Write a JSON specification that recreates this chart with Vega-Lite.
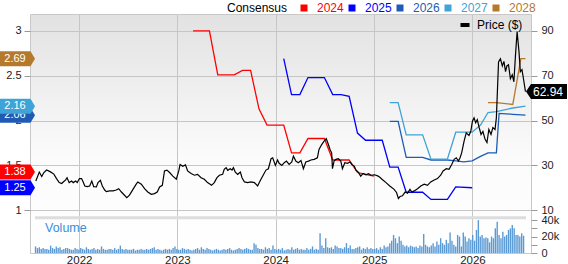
{
  "$schema": "https://vega.github.io/schema/vega-lite/v6.json",
  "width": 568,
  "height": 264,
  "autosize": {"type": "fit", "contains": "padding"},
  "padding": {"left": 0, "top": 14, "right": 0, "bottom": -2},
  "background": "white",
  "view": {
    "fill": {"gradient": "linear", "x1": 0, "y1": 0, "x2": 0, "y2": 1,
      "stops": [{"offset": 0, "color": "#e2e2e2"}, {"offset": 0.6, "color": "#fbfbfb"}, {"offset": 1, "color": "#ffffff"}]},
    "stroke": "#c8c8c8"
  },
  "config": {
    "font": "Liberation Sans",
    "axis": {"labelFont": "Liberation Sans", "labelFontSize": 11, "labelColor": "#222222", "tickColor": "#999999", "domain": false, "title": null},
    "legend": {"labelFont": "Liberation Sans", "titleFont": "Liberation Sans"}
  },
  "datasets": {
    "eps": [
      {"d": "2023-02-28", "series": "2024", "eps": 3.0},
      {"d": "2023-04-30", "series": "2024", "eps": 3.0},
      {"d": "2023-05-31", "series": "2024", "eps": 2.51},
      {"d": "2023-07-31", "series": "2024", "eps": 2.51},
      {"d": "2023-08-31", "series": "2024", "eps": 2.56},
      {"d": "2023-09-30", "series": "2024", "eps": 2.56},
      {"d": "2023-10-31", "series": "2024", "eps": 2.13},
      {"d": "2023-11-30", "series": "2024", "eps": 1.95},
      {"d": "2024-01-31", "series": "2024", "eps": 1.95},
      {"d": "2024-02-29", "series": "2024", "eps": 1.64},
      {"d": "2024-03-31", "series": "2024", "eps": 1.64},
      {"d": "2024-04-30", "series": "2024", "eps": 1.80},
      {"d": "2024-06-30", "series": "2024", "eps": 1.80},
      {"d": "2024-07-31", "series": "2024", "eps": 1.56},
      {"d": "2024-09-30", "series": "2024", "eps": 1.56},
      {"d": "2024-10-31", "series": "2024", "eps": 1.42},
      {"d": "2024-11-30", "series": "2024", "eps": 1.40},
      {"d": "2024-12-31", "series": "2024", "eps": 1.38},
      {"d": "2024-01-31", "series": "2025", "eps": 2.69},
      {"d": "2024-02-29", "series": "2025", "eps": 2.29},
      {"d": "2024-03-31", "series": "2025", "eps": 2.29},
      {"d": "2024-04-30", "series": "2025", "eps": 2.48},
      {"d": "2024-06-30", "series": "2025", "eps": 2.48},
      {"d": "2024-07-31", "series": "2025", "eps": 2.29},
      {"d": "2024-08-31", "series": "2025", "eps": 2.29},
      {"d": "2024-09-30", "series": "2025", "eps": 2.27},
      {"d": "2024-10-31", "series": "2025", "eps": 1.86},
      {"d": "2024-11-30", "series": "2025", "eps": 1.78},
      {"d": "2025-01-31", "series": "2025", "eps": 1.78},
      {"d": "2025-02-28", "series": "2025", "eps": 1.48},
      {"d": "2025-03-31", "series": "2025", "eps": 1.48},
      {"d": "2025-04-30", "series": "2025", "eps": 1.20},
      {"d": "2025-06-30", "series": "2025", "eps": 1.20},
      {"d": "2025-07-31", "series": "2025", "eps": 1.12},
      {"d": "2025-09-30", "series": "2025", "eps": 1.12},
      {"d": "2025-10-31", "series": "2025", "eps": 1.26},
      {"d": "2025-12-31", "series": "2025", "eps": 1.25},
      {"d": "2025-02-28", "series": "2026", "eps": 1.99},
      {"d": "2025-03-31", "series": "2026", "eps": 1.99},
      {"d": "2025-04-30", "series": "2026", "eps": 1.59},
      {"d": "2025-06-30", "series": "2026", "eps": 1.59},
      {"d": "2025-07-31", "series": "2026", "eps": 1.56},
      {"d": "2025-09-30", "series": "2026", "eps": 1.56},
      {"d": "2025-10-31", "series": "2026", "eps": 1.55},
      {"d": "2025-11-30", "series": "2026", "eps": 1.54},
      {"d": "2025-12-31", "series": "2026", "eps": 1.55},
      {"d": "2026-01-31", "series": "2026", "eps": 1.60},
      {"d": "2026-02-28", "series": "2026", "eps": 1.64},
      {"d": "2026-03-31", "series": "2026", "eps": 1.64},
      {"d": "2026-04-10", "series": "2026", "eps": 2.08},
      {"d": "2026-05-31", "series": "2026", "eps": 2.07},
      {"d": "2026-07-17", "series": "2026", "eps": 2.06},
      {"d": "2025-02-28", "series": "2027", "eps": 2.20},
      {"d": "2025-03-31", "series": "2027", "eps": 2.20},
      {"d": "2025-04-30", "series": "2027", "eps": 1.84},
      {"d": "2025-06-30", "series": "2027", "eps": 1.84},
      {"d": "2025-07-31", "series": "2027", "eps": 1.57},
      {"d": "2025-09-30", "series": "2027", "eps": 1.57},
      {"d": "2025-10-31", "series": "2027", "eps": 1.87},
      {"d": "2025-12-31", "series": "2027", "eps": 1.87},
      {"d": "2026-01-31", "series": "2027", "eps": 1.95},
      {"d": "2026-02-28", "series": "2027", "eps": 2.09},
      {"d": "2026-03-31", "series": "2027", "eps": 2.10},
      {"d": "2026-04-30", "series": "2027", "eps": 2.12},
      {"d": "2026-05-31", "series": "2027", "eps": 2.14},
      {"d": "2026-07-17", "series": "2027", "eps": 2.16},
      {"d": "2026-02-28", "series": "2028", "eps": 2.20},
      {"d": "2026-03-31", "series": "2028", "eps": 2.20},
      {"d": "2026-05-31", "series": "2028", "eps": 2.18},
      {"d": "2026-06-30", "series": "2028", "eps": 2.69},
      {"d": "2026-07-17", "series": "2028", "eps": 2.69}
    ],
    "flags": [
      {"series": "2026", "eps": 2.06, "label": "2.06"},
      {"series": "2027", "eps": 2.16, "label": "2.16"},
      {"series": "2028", "eps": 2.69, "label": "2.69"},
      {"series": "2025", "eps": 1.25, "label": "1.25"},
      {"series": "2024", "eps": 1.38, "label": "1.38"}
    ],
    "price": [
      {"d": "2021-07-24", "p": 23.0}, {"d": "2021-08-06", "p": 27.0}, {"d": "2021-08-15", "p": 25.0}, {"d": "2021-08-23", "p": 26.8},
      {"d": "2021-09-02", "p": 27.9}, {"d": "2021-09-15", "p": 27.2}, {"d": "2021-09-29", "p": 26.1}, {"d": "2021-10-09", "p": 24.1},
      {"d": "2021-10-19", "p": 22.3}, {"d": "2021-10-28", "p": 21.9}, {"d": "2021-11-03", "p": 22.6}, {"d": "2021-11-12", "p": 23.5},
      {"d": "2021-11-17", "p": 24.5}, {"d": "2021-11-25", "p": 22.3}, {"d": "2021-12-04", "p": 23.0}, {"d": "2021-12-10", "p": 22.3},
      {"d": "2021-12-19", "p": 23.0}, {"d": "2021-12-25", "p": 22.3}, {"d": "2022-01-02", "p": 24.1}, {"d": "2022-01-10", "p": 24.1},
      {"d": "2022-01-16", "p": 22.6}, {"d": "2022-01-22", "p": 20.8}, {"d": "2022-01-31", "p": 20.5}, {"d": "2022-02-09", "p": 20.8},
      {"d": "2022-02-17", "p": 23.0}, {"d": "2022-02-24", "p": 20.5}, {"d": "2022-03-06", "p": 20.4}, {"d": "2022-03-12", "p": 22.3},
      {"d": "2022-03-21", "p": 23.3}, {"d": "2022-03-28", "p": 20.8}, {"d": "2022-04-06", "p": 19.0}, {"d": "2022-04-12", "p": 18.3},
      {"d": "2022-04-24", "p": 18.6}, {"d": "2022-05-07", "p": 18.6}, {"d": "2022-05-19", "p": 19.0}, {"d": "2022-05-28", "p": 19.6},
      {"d": "2022-06-07", "p": 18.1}, {"d": "2022-06-15", "p": 17.1}, {"d": "2022-06-27", "p": 15.6}, {"d": "2022-07-07", "p": 16.7},
      {"d": "2022-07-20", "p": 19.3}, {"d": "2022-08-01", "p": 21.6}, {"d": "2022-08-07", "p": 22.6}, {"d": "2022-08-20", "p": 21.6},
      {"d": "2022-09-01", "p": 19.6}, {"d": "2022-09-13", "p": 18.1}, {"d": "2022-09-26", "p": 17.1}, {"d": "2022-10-08", "p": 17.4},
      {"d": "2022-10-18", "p": 18.1}, {"d": "2022-10-27", "p": 20.4}, {"d": "2022-11-06", "p": 21.1}, {"d": "2022-11-14", "p": 27.5},
      {"d": "2022-11-23", "p": 27.9}, {"d": "2022-12-03", "p": 26.8}, {"d": "2022-12-15", "p": 25.2}, {"d": "2022-12-28", "p": 23.8},
      {"d": "2023-01-06", "p": 27.5}, {"d": "2023-01-11", "p": 30.4}, {"d": "2023-01-21", "p": 29.6}, {"d": "2023-01-31", "p": 30.2},
      {"d": "2023-02-08", "p": 27.5}, {"d": "2023-02-21", "p": 26.4}, {"d": "2023-03-05", "p": 25.6}, {"d": "2023-03-17", "p": 26.0},
      {"d": "2023-03-30", "p": 24.5}, {"d": "2023-04-11", "p": 23.8}, {"d": "2023-04-23", "p": 22.3}, {"d": "2023-05-08", "p": 21.1},
      {"d": "2023-05-18", "p": 22.3}, {"d": "2023-05-28", "p": 24.5}, {"d": "2023-06-06", "p": 25.6}, {"d": "2023-06-18", "p": 26.0},
      {"d": "2023-06-24", "p": 28.2}, {"d": "2023-07-01", "p": 29.0}, {"d": "2023-07-07", "p": 27.8}, {"d": "2023-07-16", "p": 28.5},
      {"d": "2023-07-23", "p": 27.9}, {"d": "2023-07-28", "p": 29.0}, {"d": "2023-08-04", "p": 27.0}, {"d": "2023-08-13", "p": 26.0},
      {"d": "2023-08-23", "p": 27.0}, {"d": "2023-08-29", "p": 24.5}, {"d": "2023-09-07", "p": 22.6}, {"d": "2023-09-19", "p": 22.3},
      {"d": "2023-10-01", "p": 22.6}, {"d": "2023-10-14", "p": 22.3}, {"d": "2023-10-26", "p": 20.8}, {"d": "2023-11-04", "p": 23.0},
      {"d": "2023-11-13", "p": 25.0}, {"d": "2023-11-26", "p": 27.9}, {"d": "2023-12-05", "p": 28.5}, {"d": "2023-12-15", "p": 33.0},
      {"d": "2023-12-21", "p": 33.4}, {"d": "2023-12-31", "p": 30.0}, {"d": "2024-01-08", "p": 32.4}, {"d": "2024-01-14", "p": 30.9},
      {"d": "2024-01-24", "p": 30.0}, {"d": "2024-02-02", "p": 31.2}, {"d": "2024-02-10", "p": 31.9}, {"d": "2024-02-20", "p": 30.4},
      {"d": "2024-03-01", "p": 31.5}, {"d": "2024-03-07", "p": 34.1}, {"d": "2024-03-16", "p": 31.9}, {"d": "2024-03-25", "p": 31.2},
      {"d": "2024-04-04", "p": 32.2}, {"d": "2024-04-13", "p": 28.5}, {"d": "2024-04-22", "p": 31.5}, {"d": "2024-05-02", "p": 31.9},
      {"d": "2024-05-11", "p": 32.4}, {"d": "2024-05-23", "p": 32.7}, {"d": "2024-06-04", "p": 33.4}, {"d": "2024-06-10", "p": 37.1},
      {"d": "2024-06-20", "p": 39.3}, {"d": "2024-06-29", "p": 40.8}, {"d": "2024-07-07", "p": 41.9}, {"d": "2024-07-15", "p": 39.3},
      {"d": "2024-07-21", "p": 37.1}, {"d": "2024-07-27", "p": 35.6}, {"d": "2024-07-30", "p": 28.5}, {"d": "2024-08-05", "p": 31.9},
      {"d": "2024-08-12", "p": 32.7}, {"d": "2024-08-21", "p": 33.0}, {"d": "2024-08-30", "p": 31.9}, {"d": "2024-09-05", "p": 28.5},
      {"d": "2024-09-14", "p": 31.2}, {"d": "2024-09-24", "p": 30.9}, {"d": "2024-10-03", "p": 31.5}, {"d": "2024-10-10", "p": 30.4},
      {"d": "2024-10-19", "p": 29.7}, {"d": "2024-10-25", "p": 27.9}, {"d": "2024-11-03", "p": 27.0}, {"d": "2024-11-12", "p": 25.2},
      {"d": "2024-11-21", "p": 26.4}, {"d": "2024-12-01", "p": 25.8}, {"d": "2024-12-11", "p": 26.3}, {"d": "2024-12-20", "p": 25.6},
      {"d": "2025-01-02", "p": 25.8}, {"d": "2025-01-14", "p": 25.3}, {"d": "2025-01-22", "p": 24.7}, {"d": "2025-01-30", "p": 23.8},
      {"d": "2025-02-14", "p": 22.3}, {"d": "2025-02-28", "p": 20.8}, {"d": "2025-03-16", "p": 19.3}, {"d": "2025-03-25", "p": 17.9},
      {"d": "2025-04-01", "p": 15.2}, {"d": "2025-04-07", "p": 16.1}, {"d": "2025-04-16", "p": 16.4}, {"d": "2025-04-26", "p": 18.1},
      {"d": "2025-05-05", "p": 17.6}, {"d": "2025-05-14", "p": 19.3}, {"d": "2025-05-21", "p": 18.1}, {"d": "2025-05-30", "p": 18.6},
      {"d": "2025-06-11", "p": 19.6}, {"d": "2025-06-23", "p": 20.8}, {"d": "2025-07-06", "p": 21.6}, {"d": "2025-07-18", "p": 21.1},
      {"d": "2025-07-30", "p": 22.6}, {"d": "2025-08-12", "p": 23.5}, {"d": "2025-08-24", "p": 24.1}, {"d": "2025-09-05", "p": 25.6},
      {"d": "2025-09-14", "p": 27.5}, {"d": "2025-09-26", "p": 28.5}, {"d": "2025-10-06", "p": 28.2}, {"d": "2025-10-16", "p": 30.4},
      {"d": "2025-10-25", "p": 32.7}, {"d": "2025-11-02", "p": 33.4}, {"d": "2025-11-10", "p": 31.9}, {"d": "2025-11-16", "p": 33.4},
      {"d": "2025-11-22", "p": 35.6}, {"d": "2025-12-01", "p": 40.8}, {"d": "2025-12-09", "p": 44.5}, {"d": "2025-12-19", "p": 43.3},
      {"d": "2025-12-26", "p": 45.2}, {"d": "2026-01-01", "p": 49.7}, {"d": "2026-01-07", "p": 51.2}, {"d": "2026-01-13", "p": 49.0},
      {"d": "2026-01-19", "p": 50.4}, {"d": "2026-01-26", "p": 46.9}, {"d": "2026-02-02", "p": 43.8}, {"d": "2026-02-09", "p": 45.1},
      {"d": "2026-02-17", "p": 41.6}, {"d": "2026-02-24", "p": 40.2}, {"d": "2026-03-03", "p": 46.0}, {"d": "2026-03-11", "p": 43.8},
      {"d": "2026-03-18", "p": 46.9}, {"d": "2026-03-26", "p": 46.0}, {"d": "2026-03-31", "p": 51.3}, {"d": "2026-04-04", "p": 63.8},
      {"d": "2026-04-08", "p": 76.2}, {"d": "2026-04-15", "p": 77.6}, {"d": "2026-04-22", "p": 74.4}, {"d": "2026-04-28", "p": 76.4},
      {"d": "2026-05-04", "p": 71.8}, {"d": "2026-05-09", "p": 74.4}, {"d": "2026-05-15", "p": 74.9}, {"d": "2026-05-22", "p": 68.7},
      {"d": "2026-05-29", "p": 70.4}, {"d": "2026-06-04", "p": 67.3}, {"d": "2026-06-10", "p": 79.3}, {"d": "2026-06-16", "p": 89.7},
      {"d": "2026-06-23", "p": 80.7}, {"d": "2026-06-28", "p": 71.8}, {"d": "2026-07-04", "p": 72.7}, {"d": "2026-07-09", "p": 69.1},
      {"d": "2026-07-17", "p": 62.94}
    ],
    "vol": [
      {"d": "2021-07-23", "v": 8}, {"d": "2021-07-30", "v": 6}, {"d": "2021-08-06", "v": 7}, {"d": "2021-08-13", "v": 5},
      {"d": "2021-08-20", "v": 6}, {"d": "2021-08-27", "v": 5}, {"d": "2021-09-03", "v": 5}, {"d": "2021-09-10", "v": 4},
      {"d": "2021-09-17", "v": 9}, {"d": "2021-09-24", "v": 6}, {"d": "2021-10-01", "v": 5}, {"d": "2021-10-08", "v": 8},
      {"d": "2021-10-15", "v": 6}, {"d": "2021-10-22", "v": 7}, {"d": "2021-10-29", "v": 4}, {"d": "2021-11-05", "v": 5},
      {"d": "2021-11-12", "v": 6}, {"d": "2021-11-19", "v": 6}, {"d": "2021-11-26", "v": 5}, {"d": "2021-12-03", "v": 4},
      {"d": "2021-12-10", "v": 4}, {"d": "2021-12-17", "v": 6}, {"d": "2021-12-24", "v": 5}, {"d": "2021-12-31", "v": 4},
      {"d": "2022-01-07", "v": 6}, {"d": "2022-01-14", "v": 5}, {"d": "2022-01-21", "v": 4}, {"d": "2022-01-28", "v": 7},
      {"d": "2022-02-04", "v": 5}, {"d": "2022-02-11", "v": 4}, {"d": "2022-02-18", "v": 5}, {"d": "2022-02-25", "v": 6},
      {"d": "2022-03-04", "v": 4}, {"d": "2022-03-11", "v": 5}, {"d": "2022-03-18", "v": 4}, {"d": "2022-03-25", "v": 8},
      {"d": "2022-04-01", "v": 5}, {"d": "2022-04-08", "v": 4}, {"d": "2022-04-15", "v": 4}, {"d": "2022-04-22", "v": 5},
      {"d": "2022-04-29", "v": 5}, {"d": "2022-05-06", "v": 4}, {"d": "2022-05-13", "v": 6}, {"d": "2022-05-20", "v": 4},
      {"d": "2022-05-27", "v": 5}, {"d": "2022-06-03", "v": 9}, {"d": "2022-06-10", "v": 5}, {"d": "2022-06-17", "v": 4},
      {"d": "2022-06-24", "v": 5}, {"d": "2022-07-01", "v": 4}, {"d": "2022-07-08", "v": 4}, {"d": "2022-07-15", "v": 4},
      {"d": "2022-07-22", "v": 5}, {"d": "2022-07-29", "v": 3}, {"d": "2022-08-05", "v": 4}, {"d": "2022-08-12", "v": 4},
      {"d": "2022-08-19", "v": 5}, {"d": "2022-08-26", "v": 4}, {"d": "2022-09-02", "v": 4}, {"d": "2022-09-09", "v": 5},
      {"d": "2022-09-16", "v": 4}, {"d": "2022-09-23", "v": 5}, {"d": "2022-09-30", "v": 6}, {"d": "2022-10-07", "v": 7},
      {"d": "2022-10-14", "v": 4}, {"d": "2022-10-21", "v": 5}, {"d": "2022-10-28", "v": 4}, {"d": "2022-11-04", "v": 3},
      {"d": "2022-11-11", "v": 4}, {"d": "2022-11-18", "v": 5}, {"d": "2022-11-25", "v": 4}, {"d": "2022-12-02", "v": 5},
      {"d": "2022-12-09", "v": 4}, {"d": "2022-12-16", "v": 6}, {"d": "2022-12-23", "v": 8}, {"d": "2022-12-30", "v": 5},
      {"d": "2023-01-06", "v": 4}, {"d": "2023-01-13", "v": 4}, {"d": "2023-01-20", "v": 6}, {"d": "2023-01-27", "v": 5},
      {"d": "2023-02-03", "v": 4}, {"d": "2023-02-10", "v": 5}, {"d": "2023-02-17", "v": 4}, {"d": "2023-02-24", "v": 3},
      {"d": "2023-03-03", "v": 4}, {"d": "2023-03-10", "v": 5}, {"d": "2023-03-17", "v": 6}, {"d": "2023-03-24", "v": 4},
      {"d": "2023-03-31", "v": 7}, {"d": "2023-04-07", "v": 5}, {"d": "2023-04-14", "v": 4}, {"d": "2023-04-21", "v": 6},
      {"d": "2023-04-28", "v": 5}, {"d": "2023-05-05", "v": 4}, {"d": "2023-05-12", "v": 3}, {"d": "2023-05-19", "v": 4},
      {"d": "2023-05-26", "v": 5}, {"d": "2023-06-02", "v": 4}, {"d": "2023-06-09", "v": 3}, {"d": "2023-06-16", "v": 4},
      {"d": "2023-06-23", "v": 5}, {"d": "2023-06-30", "v": 4}, {"d": "2023-07-07", "v": 5}, {"d": "2023-07-14", "v": 6},
      {"d": "2023-07-21", "v": 4}, {"d": "2023-07-28", "v": 3}, {"d": "2023-08-04", "v": 4}, {"d": "2023-08-11", "v": 5},
      {"d": "2023-08-18", "v": 6}, {"d": "2023-08-25", "v": 5}, {"d": "2023-09-01", "v": 4}, {"d": "2023-09-08", "v": 5},
      {"d": "2023-09-15", "v": 6}, {"d": "2023-09-22", "v": 5}, {"d": "2023-09-29", "v": 4}, {"d": "2023-10-06", "v": 4},
      {"d": "2023-10-13", "v": 12}, {"d": "2023-10-20", "v": 10}, {"d": "2023-10-27", "v": 6}, {"d": "2023-11-03", "v": 5},
      {"d": "2023-11-10", "v": 5}, {"d": "2023-11-17", "v": 4}, {"d": "2023-11-24", "v": 7}, {"d": "2023-12-01", "v": 5},
      {"d": "2023-12-08", "v": 6}, {"d": "2023-12-15", "v": 4}, {"d": "2023-12-22", "v": 9}, {"d": "2023-12-29", "v": 5},
      {"d": "2024-01-05", "v": 4}, {"d": "2024-01-12", "v": 5}, {"d": "2024-01-19", "v": 4}, {"d": "2024-01-26", "v": 6},
      {"d": "2024-02-02", "v": 3}, {"d": "2024-02-09", "v": 4}, {"d": "2024-02-16", "v": 5}, {"d": "2024-02-23", "v": 4},
      {"d": "2024-03-01", "v": 7}, {"d": "2024-03-08", "v": 4}, {"d": "2024-03-15", "v": 5}, {"d": "2024-03-22", "v": 6},
      {"d": "2024-03-29", "v": 4}, {"d": "2024-04-05", "v": 5}, {"d": "2024-04-12", "v": 4}, {"d": "2024-04-19", "v": 4},
      {"d": "2024-04-26", "v": 6}, {"d": "2024-05-03", "v": 4}, {"d": "2024-05-10", "v": 5}, {"d": "2024-05-17", "v": 8},
      {"d": "2024-05-24", "v": 4}, {"d": "2024-05-31", "v": 5}, {"d": "2024-06-07", "v": 4}, {"d": "2024-06-14", "v": 24},
      {"d": "2024-06-21", "v": 9}, {"d": "2024-06-28", "v": 6}, {"d": "2024-07-05", "v": 18}, {"d": "2024-07-12", "v": 7},
      {"d": "2024-07-19", "v": 6}, {"d": "2024-07-26", "v": 7}, {"d": "2024-08-02", "v": 5}, {"d": "2024-08-09", "v": 9},
      {"d": "2024-08-16", "v": 8}, {"d": "2024-08-23", "v": 6}, {"d": "2024-08-30", "v": 6}, {"d": "2024-09-06", "v": 5},
      {"d": "2024-09-13", "v": 7}, {"d": "2024-09-20", "v": 12}, {"d": "2024-09-27", "v": 6}, {"d": "2024-10-04", "v": 9},
      {"d": "2024-10-11", "v": 5}, {"d": "2024-10-18", "v": 5}, {"d": "2024-10-25", "v": 6}, {"d": "2024-11-01", "v": 7},
      {"d": "2024-11-08", "v": 8}, {"d": "2024-11-15", "v": 4}, {"d": "2024-11-22", "v": 6}, {"d": "2024-11-29", "v": 5},
      {"d": "2024-12-06", "v": 7}, {"d": "2024-12-13", "v": 5}, {"d": "2024-12-20", "v": 6}, {"d": "2024-12-27", "v": 5},
      {"d": "2025-01-03", "v": 5}, {"d": "2025-01-10", "v": 6}, {"d": "2025-01-17", "v": 4}, {"d": "2025-01-24", "v": 7},
      {"d": "2025-01-31", "v": 5}, {"d": "2025-02-07", "v": 9}, {"d": "2025-02-14", "v": 7}, {"d": "2025-02-21", "v": 8},
      {"d": "2025-02-28", "v": 12}, {"d": "2025-03-07", "v": 15}, {"d": "2025-03-14", "v": 22}, {"d": "2025-03-21", "v": 18},
      {"d": "2025-03-28", "v": 12}, {"d": "2025-04-04", "v": 20}, {"d": "2025-04-11", "v": 15}, {"d": "2025-04-18", "v": 10},
      {"d": "2025-04-25", "v": 8}, {"d": "2025-05-02", "v": 9}, {"d": "2025-05-09", "v": 7}, {"d": "2025-05-16", "v": 9},
      {"d": "2025-05-23", "v": 8}, {"d": "2025-05-30", "v": 7}, {"d": "2025-06-06", "v": 8}, {"d": "2025-06-13", "v": 6},
      {"d": "2025-06-20", "v": 9}, {"d": "2025-06-27", "v": 8}, {"d": "2025-07-04", "v": 23}, {"d": "2025-07-11", "v": 10},
      {"d": "2025-07-18", "v": 8}, {"d": "2025-07-25", "v": 7}, {"d": "2025-08-01", "v": 9}, {"d": "2025-08-08", "v": 12},
      {"d": "2025-08-15", "v": 8}, {"d": "2025-08-22", "v": 14}, {"d": "2025-08-29", "v": 10}, {"d": "2025-09-05", "v": 18},
      {"d": "2025-09-12", "v": 12}, {"d": "2025-09-19", "v": 10}, {"d": "2025-09-26", "v": 16}, {"d": "2025-10-03", "v": 12},
      {"d": "2025-10-10", "v": 25}, {"d": "2025-10-17", "v": 15}, {"d": "2025-10-24", "v": 10}, {"d": "2025-10-31", "v": 8},
      {"d": "2025-11-07", "v": 22}, {"d": "2025-11-14", "v": 20}, {"d": "2025-11-21", "v": 8}, {"d": "2025-11-28", "v": 25},
      {"d": "2025-12-05", "v": 20}, {"d": "2025-12-12", "v": 14}, {"d": "2025-12-19", "v": 18}, {"d": "2025-12-26", "v": 16},
      {"d": "2026-01-02", "v": 22}, {"d": "2026-01-09", "v": 15}, {"d": "2026-01-16", "v": 28}, {"d": "2026-01-23", "v": 40},
      {"d": "2026-01-30", "v": 20}, {"d": "2026-02-06", "v": 22}, {"d": "2026-02-13", "v": 18}, {"d": "2026-02-20", "v": 19},
      {"d": "2026-02-27", "v": 18}, {"d": "2026-03-06", "v": 13}, {"d": "2026-03-13", "v": 20}, {"d": "2026-03-20", "v": 18},
      {"d": "2026-03-27", "v": 30}, {"d": "2026-04-03", "v": 38}, {"d": "2026-04-10", "v": 22}, {"d": "2026-04-17", "v": 18},
      {"d": "2026-04-24", "v": 26}, {"d": "2026-05-01", "v": 20}, {"d": "2026-05-08", "v": 22}, {"d": "2026-05-15", "v": 28},
      {"d": "2026-05-22", "v": 30}, {"d": "2026-05-29", "v": 34}, {"d": "2026-06-05", "v": 30}, {"d": "2026-06-12", "v": 22},
      {"d": "2026-06-19", "v": 22}, {"d": "2026-06-26", "v": 20}, {"d": "2026-07-03", "v": 24}, {"d": "2026-07-10", "v": 21}
    ]
  },
  "resolve": {"scale": {"y": "independent"}, "axis": {"y": "independent"}},
  "layer": [
    {
      "layer": [
        {
          "data": {"name": "eps"},
          "mark": {"type": "line", "strokeWidth": 1.3},
          "encoding": {
            "x": {"field": "d", "type": "temporal"},
            "y": {"field": "eps", "type": "quantitative",
              "scale": {"domain": [0.5222, 3.1889], "nice": false, "zero": false},
              "axis": {"orient": "left", "values": [1, 1.5, 2, 2.5, 3], "format": "~g", "grid": false, "tickSize": 6, "labelPadding": 3, "title": null}},
            "color": {"field": "series", "type": "nominal",
              "scale": {"domain": ["2024", "2025", "2026", "2027", "2028"], "range": ["#ff0000", "#0000ff", "#1e5bb5", "#3ea3d6", "#b5792b"]},
              "legend": {
                "orient": "none", "legendX": 197, "legendY": -12, "direction": "horizontal",
                "title": "Consensus", "titleOrient": "left", "titleFontSize": 12, "titleFontWeight": "normal", "titleColor": "#000000", "titlePadding": 10,
                "labelFontSize": 12, "symbolType": "square", "symbolSize": 49, "symbolStrokeWidth": 0, "labelOffset": 7, "columnPadding": 2, "padding": 0,
                "encode": {
                  "labels": {"update": {"fill": {"scale": "color", "field": "value"}}},
                  "symbols": {"update": {"fill": {"scale": "color", "field": "value"}, "strokeWidth": {"value": 0}, "opacity": {"value": 1}}}
                }
              }
            }
          }
        },
        {
          "data": {"name": "flags"},
          "transform": [{"filter": "datum.series === '2026'"}],
          "layer": [
            {"mark": {"type": "point", "shape": "M-3.5,-0.75L-0.45,-0.75L0,0L-0.45,0.75L-3.5,0.75Z", "size": 400, "filled": true, "opacity": 1, "strokeWidth": 0},
             "encoding": {"color": {"field": "series", "type": "nominal"}}},
            {"mark": {"type": "text", "fontSize": 11, "align": "center", "baseline": "middle", "dx": -20},
             "encoding": {"text": {"field": "label"}, "color": {"value": "#ffffff"}}}
          ],
          "encoding": {
            "x": {"datum": {"year": 2021, "month": 7, "date": 21}, "type": "temporal"},
            "y": {"field": "eps", "type": "quantitative"}
          }
        },
        {
          "data": {"name": "flags"},
          "transform": [{"filter": "datum.series !== '2026' && datum.series !== '2024'"}],
          "layer": [
            {"mark": {"type": "point", "shape": "M-3.5,-0.75L-0.45,-0.75L0,0L-0.45,0.75L-3.5,0.75Z", "size": 400, "filled": true, "opacity": 1, "strokeWidth": 0},
             "encoding": {"color": {"field": "series", "type": "nominal"}}},
            {"mark": {"type": "text", "fontSize": 11, "align": "center", "baseline": "middle", "dx": -20},
             "encoding": {"text": {"field": "label"}, "color": {"value": "#ffffff"}}}
          ],
          "encoding": {
            "x": {"datum": {"year": 2021, "month": 7, "date": 21}, "type": "temporal"},
            "y": {"field": "eps", "type": "quantitative"}
          }
        },
        {
          "data": {"name": "flags"},
          "transform": [{"filter": "datum.series === '2024'"}],
          "layer": [
            {"mark": {"type": "point", "shape": "M-3.5,-0.75L-0.45,-0.75L0,0L-0.45,0.75L-3.5,0.75Z", "size": 400, "filled": true, "opacity": 1, "strokeWidth": 0, "yOffset": -4},
             "encoding": {"color": {"field": "series", "type": "nominal"}}},
            {"mark": {"type": "text", "fontSize": 11, "align": "center", "baseline": "middle", "dx": -20, "yOffset": -4},
             "encoding": {"text": {"field": "label"}, "color": {"value": "#ffffff"}}}
          ],
          "encoding": {
            "x": {"datum": {"year": 2021, "month": 7, "date": 21}, "type": "temporal"},
            "y": {"field": "eps", "type": "quantitative"}
          }
        }
      ]
    },
    {
      "layer": [
        {
          "data": {"values": [{"lo": 6.0, "hi": 7.33}]},
          "mark": {"type": "rect", "color": "#dddddd"},
          "encoding": {
            "x": {"datum": {"year": 2021, "month": 7, "date": 21}, "type": "temporal"},
            "x2": {"datum": {"year": 2026, "month": 7, "date": 19}},
            "y": {"field": "hi", "type": "quantitative"},
            "y2": {"field": "lo"}
          }
        },
        {
          "data": {"name": "price"},
          "mark": {"type": "line", "strokeWidth": 1.2},
          "encoding": {
            "x": {
              "field": "d", "type": "temporal",
              "scale": {"domain": [{"year": 2021, "month": 7, "date": 21}, {"year": 2026, "month": 7, "date": 19}], "nice": false},
              "axis": {
                "values": [{"year": 2022, "month": 1, "date": 1}, {"year": 2023, "month": 1, "date": 1}, {"year": 2024, "month": 1, "date": 1}, {"year": 2025, "month": 1, "date": 1}, {"year": 2026, "month": 1, "date": 1}],
                "format": "%Y", "grid": true, "gridColor": "#c6c6c6", "ticks": false, "domain": false,
                "labelPadding": 1, "labelFontSize": 11.5, "title": null, "labelFlush": false
              }
            },
            "y": {"field": "p", "type": "quantitative",
              "scale": {"domain": [-9.111, 97.556], "nice": false, "zero": false},
              "axis": {"orient": "right", "values": [10, 20, 30, 40, 50, 60, 70, 80, 90], "grid": true, "gridColor": "#c6c6c6", "tickSize": 6, "labelPadding": 4, "title": null}},
            "stroke": {"datum": "Price ($)", "type": "nominal",
              "scale": {"range": ["#000000"]},
              "legend": {
                "orient": "none", "legendX": 429, "legendY": 5, "title": null, "padding": 0,
                "labelFontSize": 12, "labelColor": "#000000", "labelOffset": 6,
                "symbolType": "M-1,-0.45H1V0.45H-1Z", "symbolSize": 81,
                "encode": {"symbols": {"update": {"fill": {"value": "#000000"}, "stroke": {"value": "#000000"}, "strokeWidth": {"value": 0}}}}
              }
            }
          }
        },
        {
          "data": {"values": [{"p": 62.94, "label": "62.94"}]},
          "layer": [
            {"mark": {"type": "point", "shape": "M0,0L0.5,-0.75L4.1,-0.75L4.1,0.75L0.5,0.75Z", "size": 400, "filled": true, "opacity": 1, "strokeWidth": 0, "color": "#000000"}},
            {"mark": {"type": "text", "color": "white", "fontSize": 12, "align": "center", "baseline": "middle", "dx": 22}, "encoding": {"text": {"field": "label"}}}
          ],
          "encoding": {
            "x": {"datum": {"year": 2026, "month": 7, "date": 19}, "type": "temporal"},
            "y": {"field": "p", "type": "quantitative"}
          }
        }
      ]
    },
    {
      "layer": [
        {
          "data": {"name": "vol"},
          "mark": {"type": "bar", "width": 1.4, "color": "#5b9bd5"},
          "encoding": {
            "x": {"field": "d", "type": "temporal"},
            "y": {"field": "v", "type": "quantitative",
              "scale": {"domain": [0, 290.9], "nice": false, "zero": true},
              "axis": {"orient": "right", "values": [0, 10, 20, 30, 40], "labelExpr": "datum.value === 0 ? '0' : datum.value + 'k'", "grid": false, "tickSize": 6, "labelPadding": 4, "title": null}}
          }
        },
        {
          "data": {"values": [{"label": "Volume", "v": 30}]},
          "mark": {"type": "text", "color": "#3a8fd6", "fontSize": 12.5, "align": "left", "baseline": "middle", "dx": 10},
          "encoding": {
            "x": {"datum": {"year": 2021, "month": 7, "date": 21}, "type": "temporal"},
            "y": {"field": "v", "type": "quantitative"},
            "text": {"field": "label"}
          }
        }
      ]
    }
  ]
}
